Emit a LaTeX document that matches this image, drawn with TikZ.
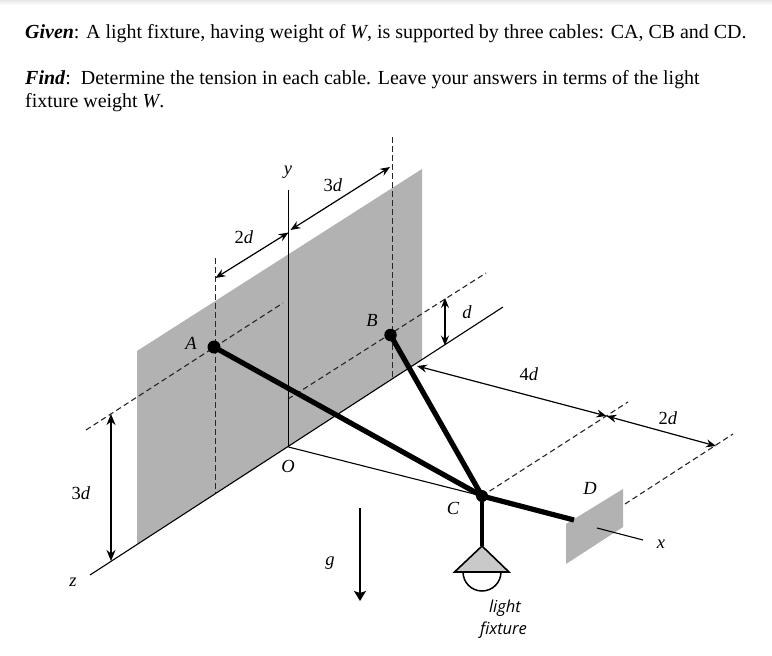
\documentclass[tikz,border=0pt]{standalone}
\usepackage{fontspec}
\setmainfont{Liberation Serif}
\newfontfamily\fixfont{Open Sans}
\usetikzlibrary{arrows.meta,shadings}
\tikzset{
  x=1pt,y=-1pt,
  thinline/.style={line width=1.1pt,black},
  dashline/.style={line width=1.1pt,dash pattern=on 5.5pt off 3.5pt,black!85},
  cable/.style={line width=5.2pt,black},
  rod/.style={line width=4.2pt,black},
  dimen/.style={line width=1.2pt,{Stealth[length=10pt,width=8pt,inset=3.5pt]}-{Stealth[length=10pt,width=8pt,inset=3.5pt]}},
  dimenheavy/.style={line width=1.9pt,{Stealth[length=11pt,width=9pt,inset=3.5pt]}-{Stealth[length=11pt,width=9pt,inset=3.5pt]}},
  lab/.style={inner sep=0pt,font=\fontsize{18.5}{20}\selectfont\itshape},
  dimlab/.style={inner sep=0pt,font=\fontsize{18.5}{20}\selectfont},
  para/.style={inner sep=0pt,anchor=base west,font=\fontsize{19.95}{23}\selectfont},
  fix/.style={inner sep=0pt,font=\fontsize{16.5}{18}\fixfont\itshape},
  joint/.style={circle,fill=black,inner sep=0pt,minimum size=#1},
  plate/.style={fill=black!30}
}
\begin{document}
\begin{tikzpicture}
\useasboundingbox (0,0) rectangle (772,656);
\shade[top color=black!9,bottom color=white] (0,0) rectangle (772,5);

\node[para] (given) at (25,38.2) {\textbf{\textit{Given}}: A light fixture, having weight of \textit{W}, is supported by three cables: CA, CB and CD.};
\node[para] (find) at (25,84.6) {\textbf{\textit{Find}}:\ \ Determine the tension in each cable. Leave your answers in terms of the light};
\node[para] (find2) at (25,107.6) {fixture weight \textit{W}.};

% wall and end plate
\fill[plate] (137,351) -- (422,169) -- (422,360) -- (137,544) -- cycle;
\fill[plate] (566,524) -- (623,489) -- (623,527) -- (566,564) -- cycle;

% key points
\coordinate (O) at (288.5,447);
\coordinate (yend) at (288.5,190);
\coordinate (zend) at (90,575);
\coordinate (xfar) at (503,307);
\coordinate (xa) at (597,528);
\coordinate (xb) at (643,540);
\coordinate (Cp) at (482,496);
\coordinate (Dp) at (574,520);
\coordinate (lampTop) at (482,546);
\coordinate (lampL) at (454.5,572);
\coordinate (lampR) at (509,572);

% dashed guides
\draw[dashline] (215.5,258) coordinate (a1) -- (215.5,493) coordinate (a2);
\draw[dashline] (392.5,137) coordinate (b1) -- (392.5,378) coordinate (b2);
\draw[dashline] (86,430) coordinate (a3) -- (283,303) coordinate (a4);
\draw[dashline] (288,399) coordinate (b3) -- (486,273) coordinate (b4);
\draw[dashline] (Cp) -- (628,402) coordinate (c1);
\draw[dashline] (625,504) coordinate (d1) -- (733,434) coordinate (d2);

% axes
\draw[thinline] (yend) -- (O);
\draw[thinline] (zend) -- (xfar);
\draw[thinline] (O) -- (Cp);
\draw[thinline] (xa) -- (xb);

% cables and joints
\node[joint=13pt] (A) at (214,347) {};
\node[joint=12.5pt] (B) at (390.5,335) {};
\node[joint=12pt] (C) at (Cp) {};
\draw[cable] (A.center) -- (C.center);
\draw[cable] (B.center) -- (C.center);
\draw[cable] (C.center) -- (Dp);
\draw[rod] (C.center) -- (lampTop);

% lamp
\draw[line width=1.5pt] (463,572) arc[start angle=180,end angle=0,radius=19];
\fill[black!21] (lampTop) -- (lampR) -- (lampL) -- cycle;
\draw[line width=1.6pt] (lampTop) -- (lampR) -- (lampL) -- cycle;

% dimensions
\draw[dimen] (215.5,278) coordinate (p1) -- (288.5,232.5) coordinate (p2);
\draw[dimen] (290.5,230) coordinate (p3) -- (390,167) coordinate (p4);
\draw[dimen] (445,298) coordinate (p5) -- (445,345.5) coordinate (p6);
\draw[dimen] (417,366) coordinate (p7) -- (606.5,416) coordinate (p8);
\draw[dimen] (606.5,416) -- (716,446) coordinate (p9);
\draw[dimenheavy] (111,414) coordinate (p10) -- (111,561) coordinate (p11);
\draw[line width=1.9pt,-{Stealth[length=10pt,width=12pt,inset=2pt]}] (360,508) coordinate (g1) -- (360,601) coordinate (g2);

% labels
\node[lab] (ly) at (288,172) {y};
\node[lab] (lz) at (73,582) {z};
\node[lab] (lx) at (661,544) {x};
\node[lab] (lO) at (288,466) {O};
\node[lab] (lA) at (191,343) {A};
\node[lab] (lB) at (372,320) {B};
\node[lab] (lC) at (453,508) {C};
\node[lab] (lD) at (590,488) {D};
\node[lab] (lg) at (330,563) {g};
\node[dimlab] (l2d) at (244,237) {2\textit{d}};
\node[dimlab] (l3d) at (333,185) {3\textit{d}};
\node[lab] (ld) at (467,312) {d};
\node[dimlab] (l4d) at (529,374) {4\textit{d}};
\node[dimlab] (l2db) at (668,418) {2\textit{d}};
\node[dimlab] (l3db) at (81,493) {3\textit{d}};
\node[fix] (fa) at (505,608) {light};
\node[fix] (fb) at (503.5,630) {fixture};
\end{tikzpicture}
\end{document}
